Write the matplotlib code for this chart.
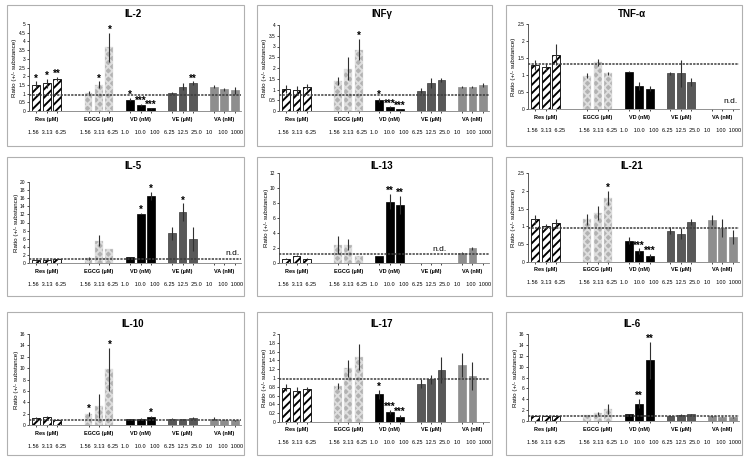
import numpy as np
import matplotlib
matplotlib.use("Agg")
import matplotlib.pyplot as plt
from matplotlib.patches import Rectangle

plt.rcParams['font.family'] = ['Liberation Sans', 'DejaVu Sans']
plt.rcParams['hatch.linewidth'] = 1.4

nan = np.nan

# group names and concentrations
groups = ["Res (µM)", "EGCG (µM)", "VD (nM)", "VE (µM)", "VA (nM)"]
concs = ["1.56  3.13  6.25", "1.56  3.13  6.25", "1.0    10.0   100",
         "6.25  12.5  25.0", "10    100  1000"]

# values per panel: 15 bars (Res, EGCG, VD, VE, VA) x 3 concentrations
il2_vals = [1.5, 1.6, 1.85, 1.05, 1.5, 3.65, 0.65, 0.35, 0.15, 1.05, 1.4, 1.6, 1.4, 1.25, 1.2]
il2_err = [0.2, 0.25, 0.12, 0.1, 0.2, 0.85, 0.1, 0.05, 0.04, 0.05, 0.2, 0.1, 0.1, 0.1, 0.2]
il2_stars = ["*", "*", "**", "", "*", "*", "*", "***", "***", "", "", "**", "", "", ""]

infg_vals = [1.02, 0.98, 1.12, 1.4, 1.97, 2.85, 0.52, 0.18, 0.08, 0.95, 1.3, 1.45, 1.1, 1.13, 1.2]
infg_err = [0.2, 0.2, 0.15, 0.2, 0.55, 0.5, 0.1, 0.03, 0.02, 0.1, 0.25, 0.1, 0.05, 0.05, 0.08]
infg_stars = ["", "", "", "", "", "*", "*", "***", "***", "", "", "", "", "", ""]

tnf_vals = [1.3, 1.23, 1.6, 0.98, 1.37, 1.05, 1.1, 0.67, 0.6, 1.05, 1.05, 0.8, nan, nan, nan]
tnf_err = [0.15, 0.12, 0.3, 0.07, 0.1, 0.05, 0.01, 0.12, 0.08, 0.05, 0.4, 0.12, 0, 0, 0]
tnf_stars = [""] * 15

il5_vals = [0.7, 0.8, 0.9, 1.2, 5.5, 3.5, 1.6, 12.2, 16.5, 7.3, 12.5, 6.0, nan, nan, nan]
il5_err = [0.1, 0.1, 0.1, 0.4, 1.3, 0.0, 0.0, 0.2, 1.0, 1.5, 2.2, 3.0, 0, 0, 0]
il5_stars = ["", "", "", "", "", "", "", "*", "*", "", "*", "", "", "", ""]

il13_vals = [0.6, 1.0, 0.6, 2.4, 2.45, 0.9, 0.9, 8.2, 7.7, nan, nan, nan, 1.4, 1.95, nan]
il13_err = [0.05, 0.05, 0.05, 1.2, 0.7, 0.0, 0.0, 1.0, 1.2, 0, 0, 0, 0.1, 0.15, 0]
il13_stars = ["", "", "", "", "", "", "", "**", "**", "", "", "", "", "", ""]

il21_vals = [1.2, 1.0, 1.1, 1.2, 1.38, 1.8, 0.6, 0.3, 0.17, 0.88, 0.8, 1.12, 1.18, 0.95, 0.7]
il21_err = [0.12, 0.07, 0.1, 0.15, 0.2, 0.2, 0.1, 0.08, 0.05, 0.1, 0.15, 0.08, 0.15, 0.25, 0.2]
il21_stars = ["", "", "", "", "", "*", "", "***", "***", "", "", "", "", "", ""]

il10_vals = [1.3, 1.4, 0.9, 1.9, 3.3, 9.8, 1.0, 1.05, 1.45, 1.1, 1.0, 1.2, 1.1, 0.9, 0.85]
il10_err = [0.1, 0.1, 0.1, 0.3, 2.1, 3.8, 0.05, 0.1, 0.2, 0.1, 0.1, 0.15, 0.3, 0.1, 0.1]
il10_stars = ["", "", "", "*", "", "*", "", "", "*", "", "", "", "", "", ""]

il17_vals = [0.78, 0.71, 0.74, 0.82, 1.22, 1.48, 0.63, 0.23, 0.12, 0.87, 0.97, 1.18, 1.3, 1.05, nan]
il17_err = [0.08, 0.08, 0.06, 0.06, 0.2, 0.3, 0.1, 0.05, 0.03, 0.1, 0.1, 0.3, 0.27, 0.32, 0]
il17_stars = ["", "", "", "", "", "", "*", "***", "***", "", "", "", "", "", ""]

il6_vals = [1.0, 1.0, 1.0, 1.1, 1.4, 2.2, 1.3, 3.2, 11.2, 1.0, 1.1, 1.2, 0.9, 0.8, 0.7]
il6_err = [0.05, 0.05, 0.05, 0.0, 0.3, 1.0, 0.0, 0.8, 3.4, 0.1, 0.1, 0.1, 0.1, 0.1, 0.1]
il6_stars = ["", "", "", "", "", "", "", "**", "**", "", "", "", "", "", ""]

titles = ["IL-2", "INFγ", "TNF-α", "IL-5", "IL-13", "IL-21", "IL-10", "IL-17", "IL-6"]
all_vals = [il2_vals, infg_vals, tnf_vals, il5_vals, il13_vals, il21_vals, il10_vals, il17_vals, il6_vals]
all_err = [il2_err, infg_err, tnf_err, il5_err, il13_err, il21_err, il10_err, il17_err, il6_err]
all_stars = [il2_stars, infg_stars, tnf_stars, il5_stars, il13_stars, il21_stars, il10_stars, il17_stars, il6_stars]
ymax = [5, 4, 2.5, 20, 12, 2.5, 16, 2, 16]
ystep = [0.5, 0.5, 0.5, 2, 2, 0.5, 2, 0.2, 2]
ref_level = [0.9, 0.75, 1.33, 1.0, 1.2, 0.95, 0.8, 0.97, 1.0]
nd_group = [None, None, 4, 4, 3, None, None, None, None]
nd_y = [0, 0, 0.12, 1.6, 1.4, 0, 0, 0, 0]

# layout in pixels
W, H = 750, 467
col_x = [(7, 244), (257, 492), (506, 742)]
row_y = [(5, 146), (157, 296), (312, 455)]
ax_y = [(24, 111), (25, 111), (24, 109),
        (182, 263), (173, 263), (173, 262),
        (334, 425), (334, 422), (334, 421)]
title_y = [14, 166, 324]

slots = [0, 1, 2, 5, 6, 7, 9, 10, 11, 13, 14, 15, 17, 18, 19]


def fbox(x0, y0, x1, y1):
    return [x0 / W, 1 - y1 / H, (x1 - x0) / W, (y1 - y0) / H]


def style_for(g):
    if g == 0:
        return dict(facecolor="white", edgecolor="black", hatch="////", linewidth=0.6)
    if g == 1:
        return dict(facecolor="#b2b2b2", edgecolor="#dedede", hatch="xxxx", linewidth=0.3)
    if g == 2:
        return dict(facecolor="black", edgecolor="black", linewidth=0.5)
    if g == 3:
        return dict(facecolor="#585858", edgecolor="#3a3a3a", linewidth=0.5)
    return dict(facecolor="#8e8e8e", edgecolor="#8e8e8e", linewidth=0.5)


fig = plt.figure(figsize=(7.5, 4.67), dpi=100)

for i in range(9):
    r, c = divmod(i, 3)
    cx0, cx1 = col_x[c]
    ry0, ry1 = row_y[r]
    fig.patches.append(Rectangle((cx0 / W, 1 - ry1 / H), (cx1 - cx0) / W, (ry1 - ry0) / H,
                                 transform=fig.transFigure, fill=False,
                                 edgecolor="#b0b0b0", linewidth=0.8))
    fig.text((cx0 + cx1) / 2 / W + 0.01, 1 - title_y[r] / H, titles[i],
             ha="center", va="center", fontsize=7, fontweight="bold")

    ay0, ay1 = ax_y[i]
    ax = fig.add_axes(fbox(cx0 + 22, ay0, cx1 - 3, ay1))
    vals = all_vals[i]
    errs = all_err[i]
    for k in range(15):
        g = k // 3
        v = vals[k]
        if np.isnan(v):
            continue
        ax.bar(slots[k], v, width=0.75, **style_for(g))
        if errs[k] > 0:
            ax.errorbar(slots[k], v, yerr=errs[k], fmt="none", ecolor="#303030",
                        elinewidth=0.8, capsize=0)
        if all_stars[i][k]:
            ax.text(slots[k], v + errs[k] + 0.035 * ymax[i], all_stars[i][k],
                    ha="center", va="center", fontsize=7, fontweight="bold")

    ax.axhline(ref_level[i], color="#3c3c3c", linestyle=(0, (1.5, 0.8)), linewidth=1.1)

    if nd_group[i] is not None:
        gx = slots[nd_group[i] * 3 + 1]
        ax.text(gx + 0.8, nd_y[i], "n.d.", ha="center", va="bottom", fontsize=6)

    ax.set_xlim(-0.7, 19.6)
    ax.set_ylim(0, ymax[i])
    ticks = np.arange(0, ymax[i] + ystep[i] / 2, ystep[i])
    ax.set_yticks(ticks)
    ax.set_yticklabels([("%g" % t) for t in ticks])
    ax.tick_params(axis="y", labelsize=3.5, length=1.5, width=0.5, pad=1)
    ax.set_xticks(slots)
    ax.tick_params(axis="x", labelbottom=False, length=1.5, width=0.5)
    for s in ["top", "right"]:
        ax.spines[s].set_visible(False)
    ax.spines["left"].set_linewidth(0.6)
    ax.spines["bottom"].set_linewidth(0.6)
    ax.spines["left"].set_color("#404040")
    ax.spines["bottom"].set_color("#808080")
    ax.set_ylabel("Ratio (+/- substance)", fontsize=4.5, labelpad=1)

    for g in range(5):
        gx = slots[g * 3 + 1]
        ax.annotate(groups[g], xy=(gx, 0), xycoords=("data", "axes fraction"),
                    xytext=(0, -8), textcoords="offset pixels", ha="center",
                    va="center", fontsize=4, fontweight="bold")
        ax.annotate(concs[g], xy=(gx, 0), xycoords=("data", "axes fraction"),
                    xytext=(0, -21), textcoords="offset pixels", ha="center",
                    va="center", fontsize=4)

fig.savefig("out.png", dpi=100)
